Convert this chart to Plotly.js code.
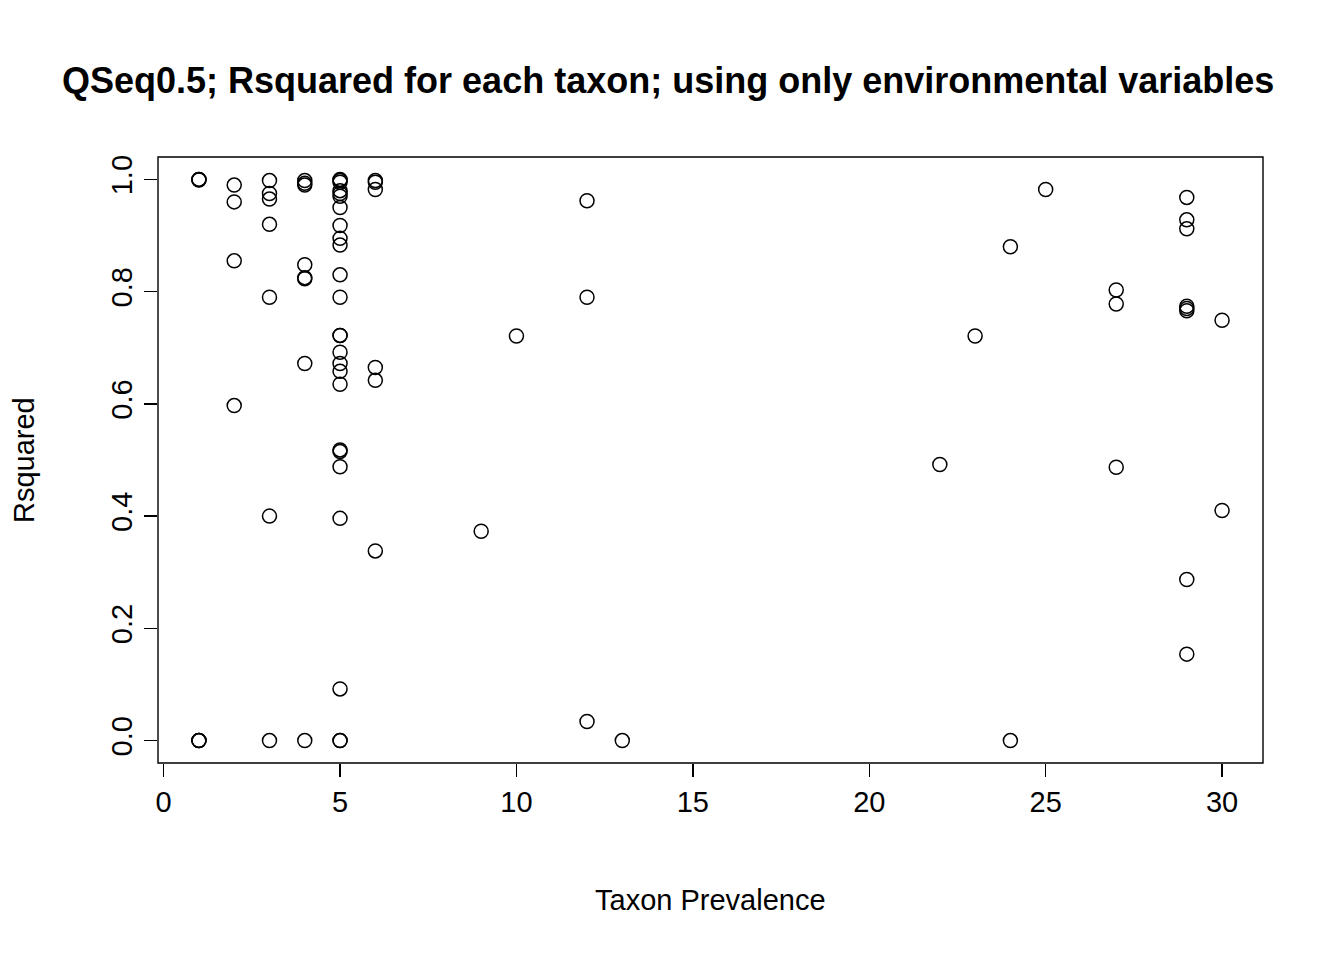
<!DOCTYPE html>
<html><head><meta charset="utf-8">
<script src="https://cdn.plot.ly/plotly-3.0.1.min.js"></script>
<style>body{margin:0;background:#fff}#c{width:1344px;height:960px}</style>
</head><body><div id="c"></div>
<script>
const prevalence = [
1,1,1,1,1,1,
2,2,2,2,
3,3,3,3,3,3,3,
4,4,4,4,4,4,4,4,
5,5,5,5,5,5,5,5,5,5,5,5,5,5,5,5,5,5,5,5,5,5,5,5,5,
6,6,6,6,6,6,
9,10,12,12,12,13,22,23,24,24,25,27,27,27,
29,29,29,29,29,29,29,29,30,30];
const rsquared = [
1.0,1.0,0.999,0.0,0.0,0.0,
0.99,0.96,0.855,0.597,
0.998,0.975,0.965,0.92,0.79,0.40,0.0,
0.998,0.993,0.99,0.848,0.825,0.823,0.672,0.0,
1.0,0.998,0.995,0.98,0.975,0.97,0.95,0.918,0.895,0.883,0.83,0.79,0.722,0.722,0.692,0.672,0.658,0.635,0.518,0.515,0.488,0.396,0.092,0.0,0.0,
0.998,0.995,0.982,0.665,0.642,0.338,
0.373,0.721,0.962,0.79,0.034,0.0,0.492,0.721,0.88,0.0,0.982,0.803,0.778,0.487,
0.968,0.928,0.912,0.774,0.77,0.766,0.287,0.154,0.749,0.41];
const xTicks=[0,5,10,15,20,25,30];
const yTicks=[0,0.2,0.4,0.6,0.8,1.0];
const yLabels=['0.0','0.2','0.4','0.6','0.8','1.0'];
const f={family:'Liberation Sans, Arial, sans-serif',color:'#000'};
Plotly.newPlot('c',[{x:prevalence,y:rsquared,mode:'markers',type:'scatter',
 marker:{symbol:'circle-open',size:14,color:'#000',line:{width:1.5,color:'#000'}}}],
{width:1344,height:960,paper_bgcolor:'#fff',plot_bgcolor:'#fff',showlegend:false,
 margin:{l:158,r:81,t:157,b:197},
 title:{text:'<b>QSeq0.5; Rsquared for each taxon; using only environmental variables</b>',
   x:62/1344,xanchor:'left',xref:'container',y:1-80/960,yref:'container',yanchor:'middle',
   font:Object.assign({size:36},f)},
 xaxis:{range:[-0.16,31.16],tickvals:xTicks,ticks:'outside',ticklen:13,tickwidth:1.4,
   tickcolor:'#000',showgrid:false,zeroline:false,showline:false,
   tickfont:Object.assign({size:29},f)},
 yaxis:{range:[-0.04,1.04],tickvals:yTicks,ticktext:yLabels,ticks:'outside',ticklen:13,
   tickwidth:1.4,tickcolor:'#000',showgrid:false,zeroline:false,showline:false,tickangle:-90,
   tickfont:Object.assign({size:29},f)},
 annotations:[
  {text:'Taxon Prevalence',xref:'paper',x:0.5,yref:'paper',y:-(900-763)/606,yanchor:'middle',showarrow:false,font:Object.assign({size:29},f)},
  {text:'Rsquared',xref:'paper',x:-(158-24)/1105,xanchor:'center',yref:'paper',y:0.5,textangle:-90,showarrow:false,font:Object.assign({size:29},f)}
 ],
 shapes:[{type:'rect',xref:'paper',yref:'paper',x0:0,x1:1,y0:0,y1:1,line:{color:'#000',width:1.4}}]
},{staticPlot:true});
</script></body></html>
